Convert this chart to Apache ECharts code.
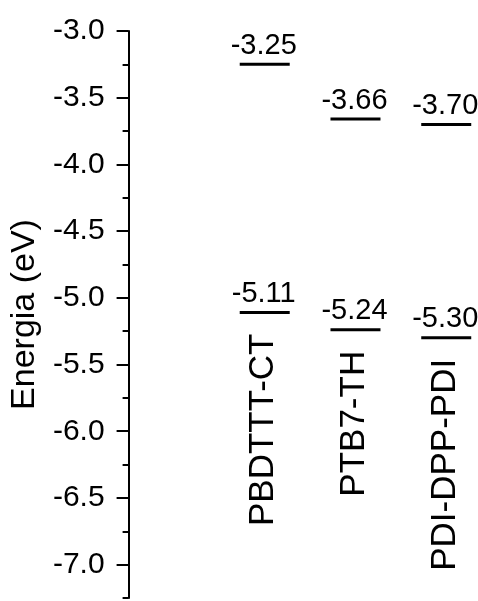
<!DOCTYPE html>
<html>
<head>
<meta charset="utf-8">
<script src="https://cdn.jsdelivr.net/npm/echarts@6/dist/echarts.min.js"></script>
<style>html,body{margin:0;padding:0;background:#fff}#c{width:478px;height:601px}</style>
</head>
<body>
<div id="c"></div>
<script>
const categories = ['PBDTTT-CT', 'PTB7-TH', 'PDI-DPP-PDI'];
const lumo = [-3.25, -3.66, -3.70];
const homo = [-5.11, -5.24, -5.30];
const majorTicks = [-7.0, -6.5, -6.0, -5.5, -5.0, -4.5, -4.0, -3.5, -3.0];
const minorTicks = [-7.25, -6.75, -6.25, -5.75, -5.25, -4.75, -4.25, -3.75, -3.25];
const yMin = -7.25, yMax = -3.0;

const FONT = 'Liberation Sans, Arial, sans-serif';

function makeRenderer(vals, withName) {
  return function (params, api) {
    const i = params.dataIndex;
    const p = api.coord([api.value(0), api.value(1)]);
    const halfW = 25;
    const children = [
      {type: 'rect', shape: {x: p[0] - halfW, y: p[1] - 1.5, width: 2 * halfW, height: 3}, style: {fill: '#000'}},
      {type: 'text', x: p[0] - 1, y: p[1] - 4, style: {text: vals[i].toFixed(2), fill: '#000', fontSize: 29, fontFamily: FONT, align: 'center', verticalAlign: 'bottom'}}
    ];
    if (withName) {
      children.push({type: 'text', x: p[0] - 1, y: p[1] + 21, rotation: Math.PI / 2,
        style: {text: categories[i], fill: '#000', fontSize: 35, fontFamily: FONT, align: 'right', verticalAlign: 'middle'}});
    }
    return {type: 'group', children};
  };
}

const chart = echarts.init(document.getElementById('c'), null, {renderer: 'canvas'});
chart.setOption({
  backgroundColor: '#fff',
  animation: false,
  grid: {left: 127, right: 0, top: 31, bottom: 3},
  xAxis: {type: 'value', min: -1.5, max: 2.35, show: false},
  yAxis: [
    {
      type: 'value', min: yMin, max: yMax, position: 'left',
      name: 'Energia (eV)', nameLocation: 'middle', nameGap: 80,
      nameTextStyle: {fontSize: 34, fontFamily: FONT, color: '#000'},
      splitLine: {show: false},
      axisLine: {show: true, onZero: false, lineStyle: {color: '#000', width: 2}},
      axisTick: {show: true, length: 12, lineStyle: {color: '#000', width: 2}, customValues: majorTicks},
      axisLabel: {show: true, margin: 24, fontSize: 30, fontFamily: FONT, color: '#000', customValues: majorTicks,
        formatter: v => v.toFixed(1)}
    },
    {
      type: 'value', min: yMin, max: yMax, position: 'left',
      splitLine: {show: false},
      axisLine: {show: false, onZero: false},
      axisTick: {show: true, length: 6, lineStyle: {color: '#000', width: 2}, customValues: minorTicks},
      axisLabel: {show: false}
    }
  ],
  series: [
    {type: 'custom', renderItem: makeRenderer(lumo, false), data: lumo.map((v, i) => [i, v]), clip: false},
    {type: 'custom', renderItem: makeRenderer(homo, true), data: homo.map((v, i) => [i, v]), clip: false}
  ]
});
</script>
</body>
</html>
